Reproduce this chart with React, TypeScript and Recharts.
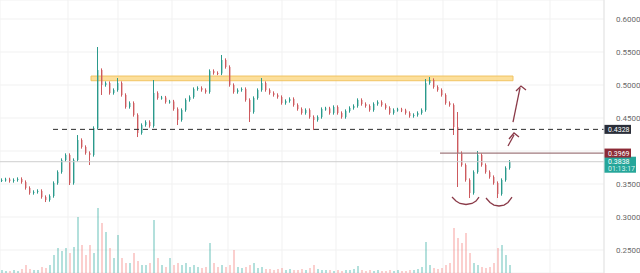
import {
  ComposedChart,
  Bar,
  Cell,
  XAxis,
  YAxis,
  CartesianGrid,
  ReferenceLine,
  ReferenceArea,
  Scatter,
} from "recharts";

// closing price of each candle, left to right
const closes = [
  0.3561, 0.357, 0.3546, 0.3561, 0.3576, 0.353, 0.344, 0.3364, 0.338, 0.3395,
  0.3303, 0.3258, 0.3318, 0.3515, 0.3682, 0.3864, 0.394, 0.3515, 0.3864, 0.4167,
  0.4061, 0.397, 0.394, 0.4349, 0.5227, 0.5, 0.503, 0.4879, 0.4924, 0.503,
  0.4849, 0.4667, 0.4727, 0.4546, 0.4273, 0.4394, 0.444, 0.4379, 0.4879, 0.4803,
  0.481, 0.4743, 0.475, 0.4636, 0.447, 0.4621, 0.4773, 0.4818, 0.4939, 0.4955,
  0.4924, 0.4894, 0.5212, 0.5182, 0.5175, 0.5379, 0.5273, 0.5, 0.4894, 0.4924,
  0.4939, 0.4773, 0.4591, 0.4803, 0.4924, 0.503, 0.4924, 0.4879, 0.4849, 0.4818,
  0.4727, 0.4758, 0.4788, 0.4697, 0.4636, 0.4576, 0.4621, 0.4515, 0.447, 0.4515,
  0.4636, 0.4645, 0.4576, 0.4667, 0.4576, 0.4515, 0.4606, 0.4652, 0.4682, 0.4773,
  0.4712, 0.4682, 0.4621, 0.4712, 0.4743, 0.4697, 0.4652, 0.4576, 0.4621, 0.463,
  0.4615, 0.4576, 0.453, 0.4546, 0.4576, 0.4621, 0.503, 0.5076, 0.497, 0.4924,
  0.4849, 0.4727, 0.4697, 0.4364, 0.397, 0.3788, 0.3561, 0.3364, 0.3682, 0.394,
  0.3788, 0.3682, 0.3606, 0.3515, 0.3349, 0.3561, 0.3743, 0.3838,
];
const firstOpen = 0.3555;

// traded volume per candle (K)
const volumes = [
  30, 20, 20, 30, 20, 40, 80, 40, 30, 30,
  60, 50, 80, 180, 250, 220, 250, 200, 260, 560,
  280, 180, 280, 200, 650, 500, 410, 250, 150, 380,
  150, 100, 100, 200, 120, 80, 80, 100, 530, 150,
  80, 60, 150, 80, 100, 80, 100, 60, 80, 60,
  50, 60, 300, 100, 60, 80, 60, 80, 230, 60,
  50, 60, 80, 100, 50, 60, 40, 40, 30, 40,
  50, 30, 40, 30, 30, 40, 30, 50, 80, 40,
  30, 30, 30, 20, 30, 20, 30, 30, 40, 70,
  30, 20, 30, 20, 30, 20, 20, 30, 20, 30,
  20, 20, 30, 30, 40, 60, 310, 80, 50, 40,
  50, 80, 100, 450, 350, 300, 400, 200, 100, 80,
  60, 50, 60, 100, 250, 280, 180, 80,
];

// candles whose wicks reach well past the body: [index, price]
const longHighs: [number, number][] = [
  [19, 0.4242], [24, 0.5576], [29, 0.5106], [38, 0.5076], [55, 0.5455],
  [65, 0.5106], [106, 0.5091], [107, 0.5121], [114, 0.4591], [119, 0.4],
];
const longLows: [number, number][] = [
  [11, 0.3227], [17, 0.3485], [22, 0.3788], [25, 0.4849], [34, 0.4212],
  [44, 0.4394], [62, 0.444], [78, 0.4318], [113, 0.4243], [114, 0.3455],
  [117, 0.3288], [124, 0.3288],
];
const WICK = 0.0025;

const priceTicks = [0.25, 0.3, 0.35, 0.4, 0.45, 0.5, 0.55, 0.6];
const timeGrid = [2.75, 16.5, 29, 42.5, 56.5, 70, 83.5, 98.75, 110.25, 123.75, 137];

// drawn levels
const supplyZone = { from: 22.25, to: 127.75, low: 0.5065, high: 0.5136 };
const breakLevel = 0.4328;
const neckLevel = 0.3969;
const lastPrice = 0.3838;
const countdown = "01:13:17";

// hand-drawn marks: two bottoms and two arrows
const bottomA = [
  { i: 112.5, p: 0.3303 }, { i: 113.5, p: 0.3242 }, { i: 114.5, p: 0.3205 },
  { i: 116, p: 0.319 }, { i: 117.5, p: 0.3205 }, { i: 118.5, p: 0.3242 },
  { i: 119.25, p: 0.3303 },
];
const bottomB = [
  { i: 121, p: 0.3288 }, { i: 122, p: 0.322 }, { i: 123, p: 0.3182 },
  { i: 124.25, p: 0.3167 }, { i: 125.5, p: 0.3182 }, { i: 126.5, p: 0.322 },
  { i: 127.5, p: 0.3303 },
];
const arrowSmallShaft = [{ i: 126.5, p: 0.4076 }, { i: 128, p: 0.4243 }];
const arrowSmallHead = [{ i: 126.75, p: 0.4182 }, { i: 128, p: 0.4273 }, { i: 129.25, p: 0.4212 }];
const arrowBigShaft = [{ i: 127.75, p: 0.4439 }, { i: 129.5, p: 0.4955 }];
const arrowBigHead = [{ i: 128.5, p: 0.4909 }, { i: 129.75, p: 0.4985 }, { i: 131, p: 0.4924 }];

const UP = "#2b9a8c";
const DOWN = "#cd5a5e";
const MARK = "#8a3a48";

const candles = closes.map((c, i) => {
  const o = i === 0 ? firstOpen : closes[i - 1];
  const hi = longHighs.find((e) => e[0] === i);
  const lo = longLows.find((e) => e[0] === i);
  return {
    i,
    o,
    c,
    h: hi ? hi[1] : Math.max(o, c) + WICK,
    l: lo ? lo[1] : Math.min(o, c) - WICK,
    v: volumes[i],
  };
});

function Candle(props: any) {
  const { x, y, width, height, payload } = props;
  if (!payload || !height) return null;
  const { o, c, h, l } = payload;
  const k = height / (h - l);
  const yo = y + (h - o) * k;
  const yc = y + (h - c) * k;
  const color = c >= o ? UP : DOWN;
  const wx = Math.floor(x + width / 2);
  return (
    <g>
      <rect x={wx} y={y} width={1} height={height} fill={color} />
      <rect x={x} y={Math.min(yo, yc)} width={width} height={Math.max(1, Math.abs(yc - yo))} fill={color} />
    </g>
  );
}

function PriceTick(props: any) {
  const { x, y, payload } = props;
  if (Math.abs(payload.value - 0.4) < 1e-9) return null;
  return (
    <text x={x + 4} y={y + 3} fontSize={8} fill="#6a6a6a" fontFamily="Roboto, sans-serif">
      {payload.value.toFixed(4)}
    </text>
  );
}

function tag(text: string, fill: string, sub?: string) {
  return (props: any) => {
    const vb = props.viewBox;
    if (!vb) return null;
    const left = vb.x + vb.width;
    const h = sub ? 16 : 9;
    const top = sub ? vb.y - 5 : vb.y - 4.5;
    return (
      <g fontFamily="Roboto, sans-serif" fontSize={7}>
        <rect x={left} y={top} width={sub ? 32 : 27} height={h} fill={fill} />
        <text x={left + 4} y={top + 7} fill="#ffffff">{text}</text>
        {sub && (
          <text x={left + 4} y={top + 14} fill="#d8f3ef">{sub}</text>
        )}
      </g>
    );
  };
}

const noDot = () => <g />;

export default function App() {
  return (
    <div style={{ position: "fixed", left: 0, top: 0, background: "#ffffff" }}>
      <ComposedChart width={640} height={273} data={candles} margin={{ top: 0, right: 0, bottom: 0, left: 0 }}>
        <XAxis xAxisId="p" dataKey="i" type="number" domain={[-0.5, 150.5]} ticks={timeGrid} hide allowDataOverflow />
        <XAxis xAxisId="v" dataKey="i" type="number" domain={[-0.5, 150.5]} hide allowDataOverflow />
        <YAxis
          yAxisId="p"
          orientation="right"
          width={36}
          domain={[0.2152, 0.6288]}
          ticks={priceTicks}
          allowDataOverflow
          tickLine={false}
          axisLine={{ stroke: "#e4e4e4" }}
          tick={<PriceTick />}
        />
        <YAxis yAxisId="v" hide domain={[0, 2730]} />
        <CartesianGrid xAxisId="p" yAxisId="p" stroke="#f1f1f1" />

        <Bar xAxisId="v" yAxisId="v" dataKey="v" barSize={2} isAnimationActive={false}>
          {candles.map((d) => (
            <Cell key={d.i} fill={d.c >= d.o ? "rgba(38,166,154,0.35)" : "rgba(239,83,80,0.28)"} />
          ))}
        </Bar>

        <ReferenceArea
          xAxisId="p"
          yAxisId="p"
          x1={supplyZone.from}
          x2={supplyZone.to}
          y1={supplyZone.low}
          y2={supplyZone.high}
          fill="#fbd98a"
          fillOpacity={0.85}
          stroke="#f1c463"
        />
        <ReferenceLine
          xAxisId="p"
          yAxisId="p"
          y={lastPrice}
          stroke="#cfcfcf"
          label={tag(lastPrice.toFixed(4), "#26a69a", countdown)}
        />
        <ReferenceLine
          xAxisId="p"
          yAxisId="p"
          segment={[{ x: 12.75, y: breakLevel }, { x: 150.5, y: breakLevel }]}
          stroke="#2b2b2b"
          strokeDasharray="5 4"
          label={tag(breakLevel.toFixed(4), "#2a2e39")}
        />
        <ReferenceLine
          xAxisId="p"
          yAxisId="p"
          segment={[{ x: 109.5, y: neckLevel }, { x: 150.5, y: neckLevel }]}
          stroke="#a07a7e"
          strokeWidth={1.2}
          label={tag(neckLevel.toFixed(4), "#8c2a36")}
        />

        <Bar
          xAxisId="p"
          yAxisId="p"
          dataKey={(d: any) => [d.l, d.h]}
          barSize={2}
          shape={<Candle />}
          isAnimationActive={false}
        />

        {[bottomA, bottomB, arrowSmallShaft, arrowSmallHead, arrowBigShaft, arrowBigHead].map((pts, k) => (
          <Scatter
            key={k}
            xAxisId="p"
            yAxisId="p"
            data={pts}
            dataKey="p"
            line={{ stroke: MARK, strokeWidth: 1.3 }}
            shape={noDot}
            isAnimationActive={false}
          />
        ))}
      </ComposedChart>
    </div>
  );
}
